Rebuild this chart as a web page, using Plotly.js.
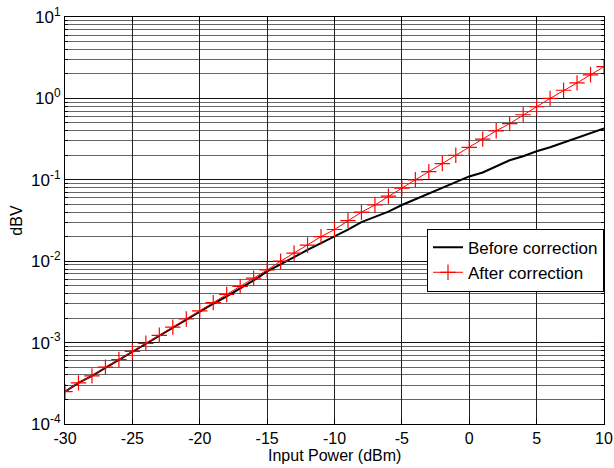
<!DOCTYPE html>
<html>
<head>
<meta charset="utf-8">
<script src="https://cdn.plot.ly/plotly-3.0.1.min.js"></script>
<style>html,body{margin:0;padding:0;background:#fff;}#chart{width:614px;height:468px;}</style>
</head>
<body>
<div id="chart"></div>
<script>
const inputPower = [-30,-29,-28,-27,-26,-25,-24,-23,-22,-21,-20,-19,-18,-17,-16,-15,-14,-13,-12,-11,-10,-9,-8,-7,-6,-5,-4,-3,-2,-1,0,1,2,3,4,5,6,7,8,9,10];
const beforeCorrection = [2.5e-4,3.2e-4,3.9e-4,4.9e-4,6.1e-4,7.6e-4,9.5e-4,1.2e-3,1.5e-3,1.9e-3,2.4e-3,3.0e-3,3.7e-3,4.6e-3,5.8e-3,7.5e-3,9.1e-3,0.0112,0.0138,0.0166,0.0200,0.0245,0.0302,0.0347,0.0407,0.0490,0.0575,0.0676,0.0794,0.0933,0.110,0.123,0.148,0.174,0.195,0.224,0.251,0.288,0.331,0.372,0.427];
const afterCorrection = [2.5e-4,3.2e-4,3.9e-4,5.0e-4,6.2e-4,7.8e-4,9.8e-4,1.23e-3,1.55e-3,1.95e-3,2.45e-3,3.1e-3,3.9e-3,4.9e-3,6.2e-3,7.8e-3,0.0100,0.0126,0.0158,0.0200,0.0245,0.0316,0.0400,0.049,0.063,0.079,0.100,0.126,0.158,0.200,0.25,0.316,0.40,0.49,0.63,0.79,1.0,1.26,1.55,1.95,2.45];
const seriesNames = ["Before correction","After correction"];
const xTicks = [-30,-25,-20,-15,-10,-5,0,5,10];
const yTicks = [1e-4,1e-3,1e-2,1e-1,1,10];
const yTickText = ["10<sup>-4</sup>","10<sup>-3</sup>","10<sup>-2</sup>","10<sup>-1</sup>","10<sup>0</sup>","10<sup>1</sup>"];
const xTitle = "Input Power (dBm)";
const yTitle = "dBV";

const fam = "Liberation Sans, Arial, sans-serif";
const font = {family: fam, size: 16, color: "#000"};

const traces = [
  {x: inputPower, y: beforeCorrection, name: seriesNames[0], type: "scatter", mode: "lines",
   line: {color: "#000", width: 2}},
  {x: inputPower, y: afterCorrection, name: seriesNames[1], type: "scatter", mode: "lines+markers",
   line: {color: "#ff0000", width: 1},
   marker: {symbol: "cross-thin-open", size: 11, color: "#ff0000", line: {color: "#ff0000", width: 1.2}}}
];

const layout = {
  width: 614, height: 468,
  margin: {l: 65, r: 10, t: 17, b: 44},
  paper_bgcolor: "#fff", plot_bgcolor: "#fff",
  font: font,
  showlegend: true,
  legend: {x: 1, xanchor: "right", y: 0.48, yanchor: "top", bgcolor: "#fff",
           bordercolor: "#000", borderwidth: 1, font: {family: fam, size: 17, color: "#000"},
           itemwidth: 30, tracegroupgap: 0},
  annotations: [
    {text: xTitle, xref: "paper", yref: "paper", x: 0.5, y: 0, xanchor: "center", yanchor: "top",
     yshift: -21, showarrow: false, font: {family: fam, size: 16, color: "#000"}}
  ],
  xaxis: {
    range: [-30, 10], tickvals: xTicks, ticktext: xTicks.map(String),
    showgrid: true, gridcolor: "#222", gridwidth: 1,
    showline: true, linecolor: "#000", linewidth: 1, mirror: "ticks",
    ticks: "inside", ticklen: 5, tickcolor: "#000",
    zeroline: false, tickfont: {family: fam, size: 16, color: "#000"}
  },
  yaxis: {
    type: "log", range: [-4, 1], tickvals: yTicks, ticktext: yTickText,
    showgrid: true, gridcolor: "#111", gridwidth: 1,
    showline: true, linecolor: "#000", linewidth: 1, mirror: "ticks",
    ticks: "inside", ticklen: 5, tickcolor: "#000",
    zeroline: false, tickfont: {family: fam, size: 17, color: "#000"},
    minor: {dtick: "D1", showgrid: true, gridcolor: "#666", gridwidth: 1, ticks: "inside", ticklen: 3, tickcolor: "#000"},
    title: {text: yTitle, font: {family: fam, size: 16, color: "#000"}, standoff: 4}
  }
};

Plotly.newPlot("chart", traces, layout, {displayModeBar: false, staticPlot: true});
</script>
</body>
</html>
